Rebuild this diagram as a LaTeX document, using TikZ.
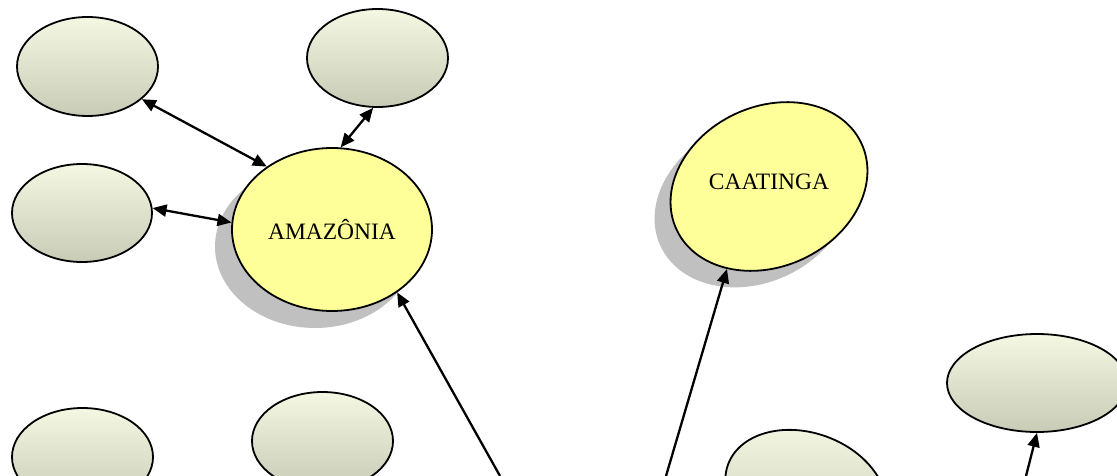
\documentclass[tikz,border=0pt]{standalone}
\usepackage{fontspec}
\setmainfont{Liberation Serif}
\usetikzlibrary{shapes.geometric,arrows.meta}
\definecolor{shadowgray}{HTML}{C0C0C0}
\definecolor{nodeyellow}{HTML}{FFFF99}
\definecolor{gtop}{HTML}{F4F8E2}
\definecolor{gbot}{HTML}{C8CCB6}
\tikzset{
  bubble/.style={ellipse, draw=black, line width=1.8pt, inner sep=0pt, top color=gtop, bottom color=gbot},
  mainbubble/.style={ellipse, draw=black, line width=1.8pt, fill=nodeyellow, inner sep=0pt, font=\fontsize{23.5}{24}\selectfont},
  shadowbubble/.style={ellipse, fill=shadowgray, inner sep=0pt},
  bigtext/.style={inner sep=0pt, font=\fontsize{23.5}{24}\selectfont},
  link/.style={line width=2.3pt, -{Triangle[length=14pt,width=12pt]}},
  duallink/.style={line width=2.3pt, {Triangle[length=14pt,width=12pt]}-{Triangle[length=14pt,width=12pt]}}
}
\begin{document}
\begin{tikzpicture}[x=1pt,y=1pt]
\useasboundingbox (0,0) rectangle (1117,-476);
\clip (0,0) rectangle (1117,-476);
% shadows
\node[shadowbubble, minimum width=200pt, minimum height=163pt] (amazsh) at (315,-246.5) {};
\node[shadowbubble, minimum width=204pt, minimum height=160pt, rotate=25] (caatsh) at (753,-203) {};
% main nodes
\node[mainbubble, minimum width=200pt, minimum height=163pt] (amaz) at (332,-229.5) {AMAZÔNIA};
\node[mainbubble, minimum width=204pt, minimum height=160pt, rotate=25] (caat) at (769,-186.5) {};
\node[bigtext] (caatlabel) at (769,-182) {CAATINGA};
% empty bubbles
\node[bubble, minimum width=141pt, minimum height=99pt] (tl1) at (87.5,-66.5) {};
\node[bubble, minimum width=141pt, minimum height=98pt] (tl2) at (377.5,-58) {};
\node[bubble, minimum width=140pt, minimum height=98pt] (l3) at (82,-213) {};
\node[bubble, minimum width=141pt, minimum height=98pt] (bl1) at (82.5,-457) {};
\node[bubble, minimum width=141pt, minimum height=98pt] (bl2) at (322.5,-441) {};
\node[bubble, minimum width=166pt, minimum height=120pt, rotate=-20] (br) at (806,-493) {};
\node[bubble, minimum width=180pt, minimum height=98pt] (r) at (1037,-383) {};
% connectors
\draw[duallink] (tl1.-31) -- (amaz.136);
\draw[duallink] (tl2.-95) -- (amaz.84);
\draw[duallink] (l3.4) -- (amaz.176);
\coordinate (fromA) at (500,-476);
\coordinate (fromC) at (666,-476);
\coordinate (fromR) at (1026,-476);
\draw[link] (fromA) -- (amaz.-44);
\draw[link] (fromC) -- (caat.-142);
\draw[link] (fromR) -- (r.-90);
\end{tikzpicture}
\end{document}
